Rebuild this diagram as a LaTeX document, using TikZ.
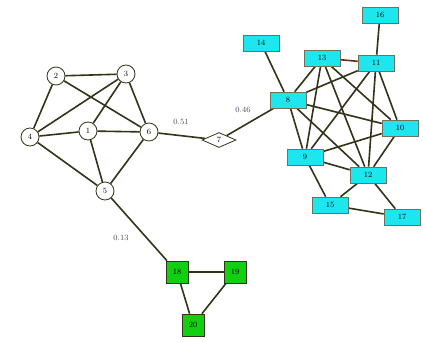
\documentclass[tikz,border=0pt]{standalone}
\usetikzlibrary{shapes.geometric,backgrounds}
\definecolor{edgec}{HTML}{33331A}
\definecolor{cyanc}{HTML}{1EE6EE}
\definecolor{greenc}{HTML}{10D010}
\definecolor{labc}{HTML}{4A4A60}
\definecolor{redc}{HTML}{6A2A1A}
\begin{document}
\begin{tikzpicture}[x=1pt,y=-1pt,
  every node/.style={font=\fontsize{8}{9}\selectfont, inner sep=0pt},
  cnode/.style={circle, draw=edgec, line width=0.8pt, fill=white, minimum size=18pt},
  dnode/.style={diamond, draw=edgec, line width=0.8pt, fill=white, minimum width=34pt, minimum height=15pt, aspect=2.2},
  bnode/.style={rectangle, draw=edgec!70, line width=0.6pt, fill=cyanc, minimum width=36pt, minimum height=16pt},
  gnode/.style={rectangle, draw=edgec, line width=0.6pt, fill=greenc, minimum width=22pt, minimum height=22pt},
  edge/.style={draw=edgec, line width=1.6pt},
  elab/.style={text=labc, font=\fontsize{8}{9}\selectfont}]
\begin{scope}[on background layer]
\fill[white] (0,0) rectangle (423,341);
\end{scope}
\useasboundingbox (0,0) rectangle (423,341);
% left cluster
\node[cnode] (n2) at (56,76) {2};
\node[cnode] (n3) at (126,74) {3};
\node[cnode] (n4) at (30,137) {4};
\node[cnode] (n1) at (88,131) {1};
\node[cnode] (n6) at (149,132) {6};
\node[cnode] (n5) at (105,191) {5};
\node[dnode] (n7) at (219,140) {7};
% right cluster
\node[bnode] (n16) at (380,15) {16};
\node[bnode] (n14) at (261,43) {14};
\node[bnode] (n13) at (322,58) {13};
\node[bnode] (n11) at (376,63) {11};
\node[bnode] (n8) at (288,100) {8};
\node[bnode] (n10) at (400,128) {10};
\node[bnode] (n9) at (305,157) {9};
\node[bnode] (n12) at (368,175) {12};
\node[bnode] (n15) at (330,205) {15};
\node[bnode] (n17) at (402,217) {17};
% green
\node[gnode] (n18) at (177,272) {18};
\node[gnode] (n19) at (235,272) {19};
\node[gnode] (n20) at (193,325) {20};
% edges
\begin{scope}[on background layer]
\foreach \a/\b in {n2/n3,n2/n4,n2/n6,n3/n4,n3/n1,n3/n6,n4/n1,n1/n6,n4/n5,n1/n5,n6/n5,n6/n7,n5/n18,
  n7/n8,n14/n8,n16/n11,n13/n8,n13/n9,n13/n12,n13/n10,n11/n8,n11/n9,n11/n12,n11/n10,
  n8/n10,n8/n9,n8/n12,n9/n10,n9/n12,n9/n15,n12/n10,n12/n15,n12/n17,n15/n17,
  n18/n19,n18/n20,n19/n20}
  \draw[edge] (\a) -- (\b);
\draw[draw=redc, line width=1.6pt] (n13) -- (n11);
\end{scope}
\node[elab] (l1) at (181,122) {0.51};
\node[elab] (l2) at (243,110) {0.46};
\node[elab] (l3) at (121,238) {0.13};
\end{tikzpicture}
\end{document}
